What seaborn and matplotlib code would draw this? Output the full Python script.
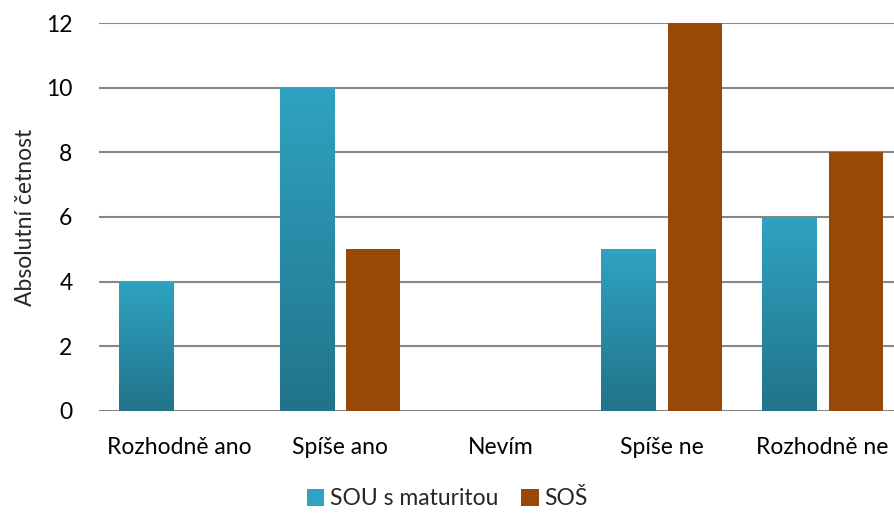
import numpy as np
import pandas as pd
import matplotlib
matplotlib.use("Agg")
import matplotlib.pyplot as plt
import seaborn as sns
from matplotlib.colors import LinearSegmentedColormap
from matplotlib.patches import Patch

categories = ["Rozhodně ano", "Spíše ano", "Nevím", "Spíše ne", "Rozhodně ne"]
sou_values = [4, 10, 0, 5, 6]
sos_values = [0, 5, 0, 12, 8]
series = ["SOU s maturitou", "SOŠ"]

df = pd.DataFrame({
    "odpoved": categories * 2,
    "skupina": [series[0]] * len(categories) + [series[1]] * len(categories),
    "cetnost": sou_values + sos_values,
})

teal_top = "#2FA3C1"
teal_bottom = "#21738A"
brown = "#984807"
fs = 16.5

sns.set_style("white")
plt.rcParams["font.family"] = ["Lato", "DejaVu Sans"]

fig = plt.figure(figsize=(8.95, 5.13), dpi=100)
ax = fig.add_axes([0.1106, 0.199, 0.898, 0.756])

sns.barplot(data=df, x="odpoved", y="cetnost", hue="skupina",
            palette=[teal_bottom, brown], saturation=1, width=0.83, gap=0.19,
            linewidth=0, legend=False, ax=ax, zorder=3)

ax.set_ylim(0, 12)
ax.set_xlim(-0.5, 4.5)
ax.set_yticks(range(0, 13, 2))
ax.yaxis.grid(True, color="#878787", linewidth=1.5, zorder=0)
ax.set_axisbelow(True)
for s in ax.spines.values():
    s.set_visible(False)
ax.tick_params(axis="both", length=0, labelsize=fs, colors="black")
ax.tick_params(axis="x", pad=19)
ax.tick_params(axis="y", pad=19)
ax.set_xlabel("")
ax.set_ylabel("Absolutní četnost", fontsize=fs, labelpad=7)

# gradient on teal bars
cmap = LinearSegmentedColormap.from_list("teal", [teal_bottom, teal_top])
grad = np.linspace(0, 1, 256).reshape(-1, 1)
n = len(categories)
for patch in ax.patches[:n]:
    x0, y0 = patch.get_x(), patch.get_y()
    w, h = patch.get_width(), patch.get_height()
    if h <= 0:
        continue
    im = ax.imshow(grad, cmap=cmap, origin="lower", aspect="auto",
                   extent=[x0, x0 + w, y0, y0 + h], zorder=3.5)
    im.set_clip_path(patch)
ax.set_xlim(-0.5, 4.5)
ax.set_ylim(0, 12)

handles = [Patch(facecolor=teal_top, edgecolor="none"),
           Patch(facecolor=brown, edgecolor="none")]
fig.legend(handles, series, loc="center", bbox_to_anchor=(0.5, 0.028),
           ncol=2, frameon=False, fontsize=fs, handlelength=0.75,
           handleheight=0.75, handletextpad=0.25, columnspacing=1.0)

fig.savefig("out.png", dpi=100)
